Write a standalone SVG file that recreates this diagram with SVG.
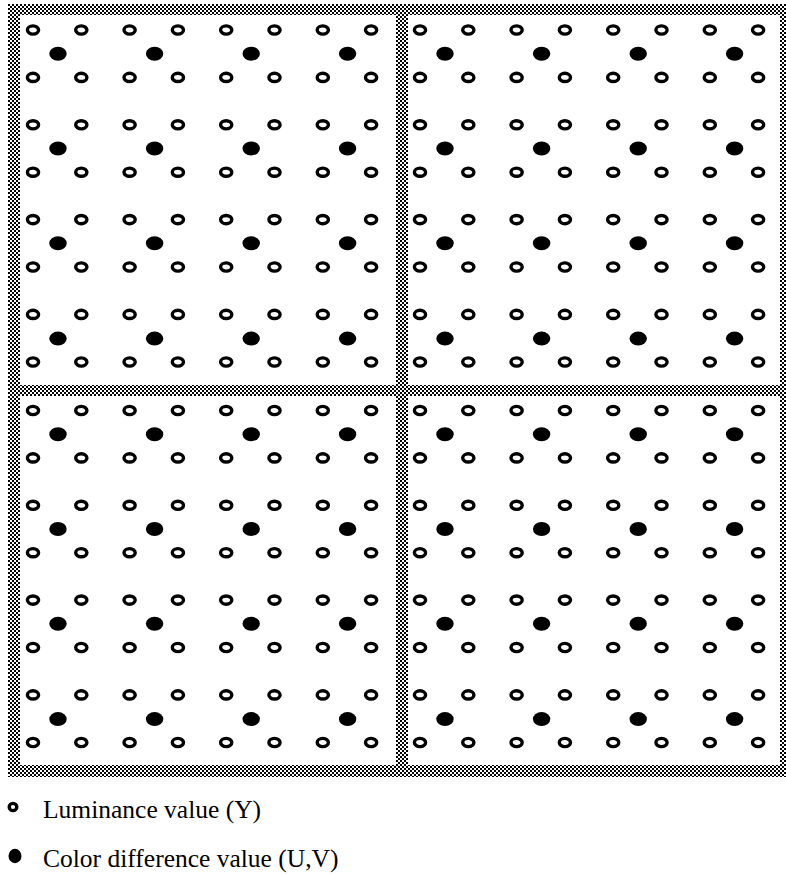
<svg xmlns="http://www.w3.org/2000/svg" xmlns:xlink="http://www.w3.org/1999/xlink" width="786" height="874" viewBox="0 0 786 874">
<style>
.o{fill:none;stroke:#000;stroke-width:3.4}
.f{fill:#000}
.band{fill:url(#chk)}
.lbl{font-family:"Liberation Serif","Times New Roman",serif;font-size:25.5px;fill:#000}
</style>
<defs>
<pattern id="chk" x="0" y="0" width="4" height="4" patternUnits="userSpaceOnUse">
<rect width="4" height="4" fill="#fff"/>
<rect x="0" y="0" width="2" height="2" fill="#000"/>
<rect x="2" y="2" width="2" height="2" fill="#000"/>
</pattern>
<ellipse id="o" class="o" cx="0" cy="0" rx="5.6" ry="4.1"/>
<ellipse id="f" class="f" cx="0" cy="0" rx="8.7" ry="7"/>
<g id="row">
<use href="#o" x="33" y="0"/><use href="#o" x="81.3" y="0"/><use href="#o" x="129.6" y="0"/><use href="#o" x="177.9" y="0"/>
<use href="#o" x="226.2" y="0"/><use href="#o" x="274.5" y="0"/><use href="#o" x="322.8" y="0"/><use href="#o" x="371.1" y="0"/>
</g>
<g id="frow">
<use href="#f" x="58" y="0"/><use href="#f" x="154.6" y="0"/><use href="#f" x="251.2" y="0"/><use href="#f" x="347.6" y="0"/>
</g>
<g id="quad">
<use href="#row" y="30"/><use href="#frow" y="53.7"/><use href="#row" y="77.4"/>
<use href="#row" y="124.8"/><use href="#frow" y="148.5"/><use href="#row" y="172.2"/>
<use href="#row" y="219.6"/><use href="#frow" y="243.3"/><use href="#row" y="267"/>
<use href="#row" y="314.4"/><use href="#frow" y="338.6"/><use href="#row" y="362"/>
</g>
</defs>
<rect width="786" height="874" fill="#fff"/>
<g id="frame">
<rect class="band" x="8" y="4" width="778" height="11"/>
<rect class="band" x="8" y="765" width="778" height="12"/>
<rect class="band" x="8" y="4" width="12" height="773"/>
<rect class="band" x="780" y="4" width="6" height="773"/>
<rect class="band" x="396" y="4" width="12" height="773"/>
<rect class="band" x="8" y="385" width="778" height="11"/>
</g>
<g id="quadrant-top-left"><use href="#quad"/></g>
<g id="quadrant-top-right"><use href="#quad" transform="translate(387,0)"/></g>
<g id="quadrant-bottom-left"><use href="#quad" transform="translate(0,380.5)"/></g>
<g id="quadrant-bottom-right"><use href="#quad" transform="translate(387,380.5)"/></g>
<g id="legend">
<ellipse class="o" cx="13" cy="807" rx="3.8" ry="3.6"/>
<text class="lbl" x="43" y="818">Luminance value (Y)</text>
<ellipse class="f" cx="15" cy="856" rx="6.5" ry="7.2"/>
<text class="lbl" x="43" y="867">Color difference value (U,V)</text>
</g>
</svg>
